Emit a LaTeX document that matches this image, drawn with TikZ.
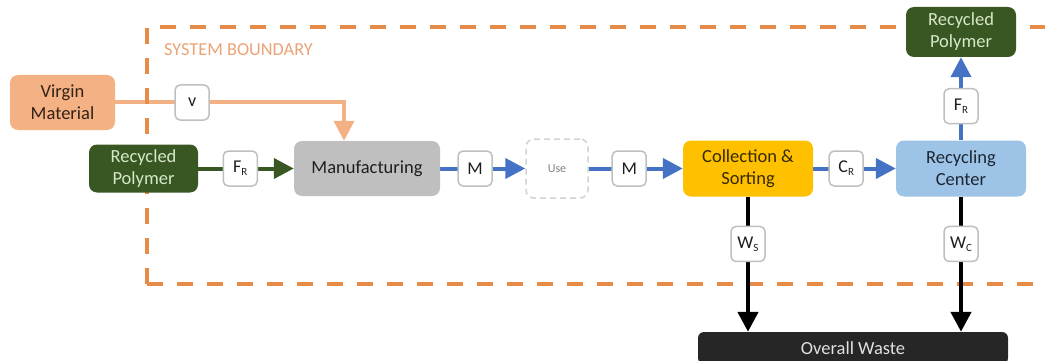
\documentclass[tikz,border=0pt]{standalone}
\usepackage{fontspec}
\setmainfont{Carlito}
\usetikzlibrary{arrows.meta}

\definecolor{virgin}{RGB}{244,177,131}
\definecolor{virgintext}{RGB}{50,34,24}
\definecolor{polymer}{RGB}{56,87,35}
\definecolor{polymertext}{RGB}{215,232,200}
\definecolor{manuf}{RGB}{191,191,191}
\definecolor{collect}{RGB}{255,192,0}
\definecolor{collecttext}{RGB}{56,42,0}
\definecolor{recyc}{RGB}{157,195,230}
\definecolor{recyctext}{RGB}{28,38,52}
\definecolor{waste}{RGB}{38,38,38}
\definecolor{wastetext}{RGB}{225,225,225}
\definecolor{flowblue}{RGB}{68,114,196}
\definecolor{fence}{RGB}{230,140,72}
\definecolor{fencetext}{RGB}{234,163,118}
\definecolor{lblgray}{RGB}{191,191,191}
\definecolor{textdark}{RGB}{30,30,30}

\pgfdeclarelayer{flowback}
\pgfdeclarelayer{fencelayer}
\pgfdeclarelayer{flowfront}
\pgfsetlayers{flowback,fencelayer,flowfront,main}

% small lowered index letter used in the flow labels
\newcommand\lowidx[1]{\raisebox{-0.35ex}{\fontsize{11}{11}\selectfont #1}}

\tikzset{
  box/.style={rounded corners=8pt, inner sep=0pt, align=center,
    font=\fontsize{18.5}{22}\selectfont},
  flowlbl/.style={draw=lblgray, line width=1.5pt, fill=white,
    rounded corners=5pt, minimum width=34pt, minimum height=35pt,
    inner sep=0pt, text=textdark, font=\fontsize{18}{20}\selectfont},
  flowtip/.style={-{Triangle[length=20pt,width=20pt]}},
  virginline/.style={flowtip, draw=virgin, line width=4pt},
  greenline/.style={flowtip, draw=polymer, line width=4pt},
  blueline/.style={flowtip, draw=flowblue, line width=4pt},
  wasteline/.style={flowtip, draw=black, line width=4.5pt},
  boundary/.style={draw=fence, line width=4pt, dash pattern=on 16pt off 14pt}
}

\begin{document}
\begin{tikzpicture}[x=1pt,y=-1pt]
\useasboundingbox (0,0) rectangle (1045,361);

% process boxes
\node[box, fill=virgin, text=virgintext, minimum width=105pt, minimum height=55pt]
  (vm) at (62.5,102.5) {Virgin\\Material};
\node[box, fill=polymer, text=polymertext, minimum width=109pt, minimum height=48pt]
  (rpin) at (143.5,168.5) {Recycled\\Polymer};
\node[box, fill=manuf, text=textdark, minimum width=146pt, minimum height=55pt]
  (mf) at (367,168.5) {Manufacturing};
\node[box, draw=lblgray!70, dash pattern=on 6pt off 4pt, line width=1.5pt, fill=white,
  text=black!50, minimum width=62pt, minimum height=59pt,
  font=\fontsize{12}{14}\selectfont]
  (use) at (557,168.5) {Use};
\node[box, fill=collect, text=collecttext, minimum width=130pt, minimum height=56pt]
  (cs) at (748,168.5) {Collection \&\\Sorting};
\node[box, fill=recyc, text=recyctext, minimum width=130pt, minimum height=56pt]
  (rc) at (961,168.5) {Recycling\\Center};
\node[box, fill=polymer, text=polymertext, minimum width=110pt, minimum height=50pt]
  (rpout) at (961,32) {Recycled\\Polymer};
\node[box, rounded corners=6pt, fill=waste, text=wastetext, minimum width=310pt,
  minimum height=32pt]
  (ow) at (853,348) {Overall Waste};

% virgin material feed, behind the boundary line
\begin{pgfonlayer}{flowback}
\draw[virginline] (vm.east) -| node[flowlbl, pos=0.168] {v} ([xshift=-23pt]mf.north);
\end{pgfonlayer}

% system boundary
\begin{pgfonlayer}{fencelayer}
\draw[boundary] (147,284) -- (147,27) -- (1060,27);
\draw[boundary] (147,284) -- (1060,284);
\node[anchor=west, text=fencetext, inner sep=0pt, font=\fontsize{18.3}{20}\selectfont]
  (sb) at (164,50) {SYSTEM BOUNDARY};
\end{pgfonlayer}

% material flows
\begin{pgfonlayer}{flowfront}
\draw[greenline] (rpin.east) -- node[flowlbl, pos=0.44] {F\lowidx{R}} (mf.west);
\draw[blueline] (mf.east) -- node[flowlbl, pos=0.41] {M} (use.west);
\draw[blueline] (use.east) -- node[flowlbl, pos=0.43] {M} (cs.west);
\draw[blueline] (cs.east) -- node[flowlbl, pos=0.40] {C\lowidx{R}} (rc.west);
\draw[blueline] (rc.north) -- node[flowlbl, pos=0.41] {F\lowidx{R}} (rpout.south);
\draw[wasteline] (cs.south) -- node[flowlbl, pos=0.35] {W\lowidx{S}} (cs.south |- ow.north);
\draw[wasteline] (rc.south) -- node[flowlbl, pos=0.35] {W\lowidx{C}} (rc.south |- ow.north);
\end{pgfonlayer}
\end{tikzpicture}
\end{document}
